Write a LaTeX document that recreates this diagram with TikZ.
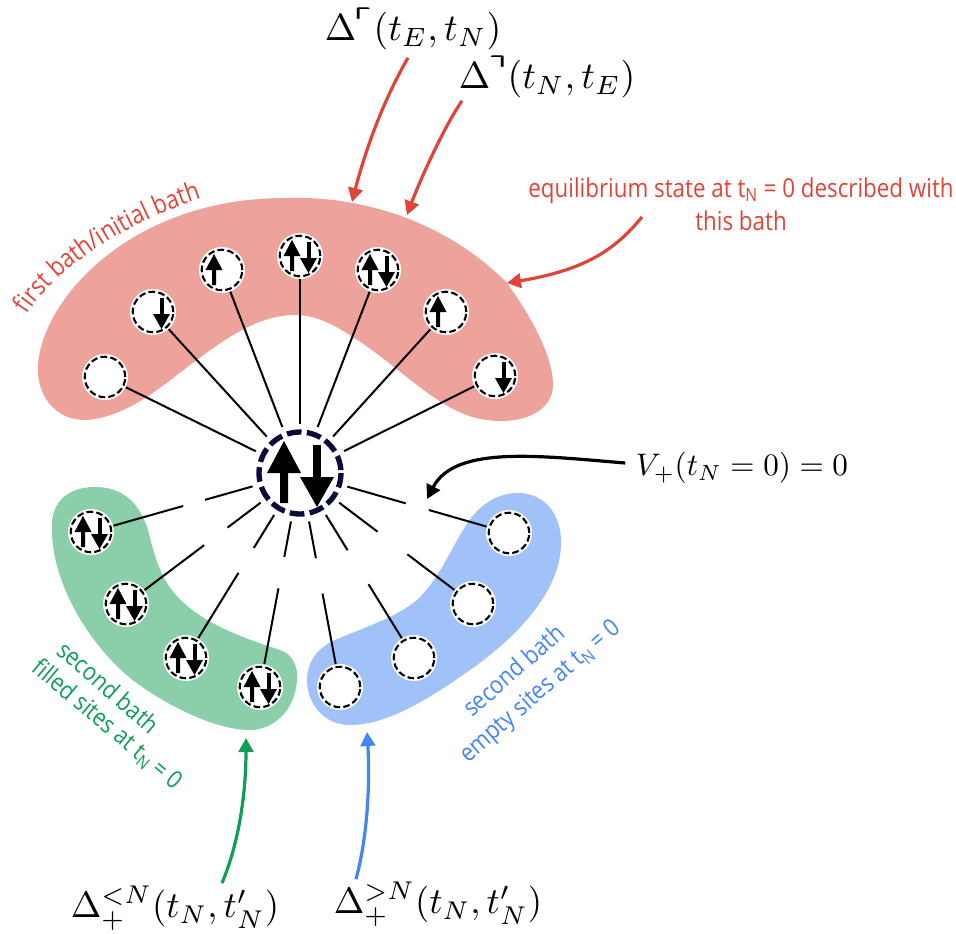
\documentclass[tikz,border=0pt]{standalone}
\usepackage{amsmath,amssymb}
\usepackage{fontspec}
\usetikzlibrary{arrows.meta,calc,decorations.text}
\newfontfamily\redfont[FakeStretch=0.86]{Open Sans}
\newfontfamily\bathfont[FakeStretch=0.88]{Open Sans}
\definecolor{redblob}{HTML}{EDA29C}
\definecolor{greenblob}{HTML}{8ACFAA}
\definecolor{blueblob}{HTML}{A0C2F8}
\definecolor{redink}{HTML}{E04438}
\definecolor{greenink}{HTML}{0F9D58}
\definecolor{blueink}{HTML}{4285F4}
\definecolor{corering}{HTML}{0B0B3B}
\tikzset{
    site/.style={circle, fill=white, inner sep=0pt, minimum size=34.5pt,
        path picture={\draw[line width=1.6pt, dash pattern=on 5pt off 2.4pt]
            (path picture bounding box.center) circle (15.2pt);}},
    bond/.style={line width=1.5pt},
    mathlabel/.style={inner sep=0pt, scale=2.75},
    pointer/.style={line width=2.4pt, -{Triangle[length=10.5pt, width=11pt]}},
    bathlabel/.style={inner sep=0pt, font=\bathfont\fontsize{18.5}{23}\selectfont},
    spinup/.pic={\fill (-10,15) -- (-10,0) -- (-16.5,0) -- (-8,-16) -- (0.5,0) -- (-6,0) -- (-6,15) -- cycle;},
    spindown/.pic={\fill (6.5,-14) rectangle (10.5,2);
        \fill (0,2) -- (17,2) -- (8.5,17) -- cycle;}
}
\begin{document}
\begin{tikzpicture}[x=0.75pt, y=-0.75pt]
    \useasboundingbox (0,0) rectangle (956,933);

    \fill[redblob] (38,365) .. controls (42,300) and (130,198) .. (285,198)
        .. controls (375,195) and (455,230) .. (507,283)
        .. controls (525,308) and (553,352) .. (553,385)
        .. controls (553,410) and (525,425) .. (487,420)
        .. controls (440,415) and (400,365) .. (345,332)
        .. controls (325,320) and (310,315) .. (295,315)
        .. controls (255,315) and (220,343) .. (190,365)
        .. controls (160,388) and (125,418) .. (85,420)
        .. controls (55,420) and (36,395) .. (38,365) -- cycle;
    \fill[greenblob] (52,530) .. controls (50,505) and (65,487) .. (95,487)
        .. controls (125,487) and (140,505) .. (148,530)
        .. controls (158,570) and (165,590) .. (195,612)
        .. controls (220,630) and (250,640) .. (280,650)
        .. controls (295,655) and (298,670) .. (297,680)
        .. controls (295,712) and (272,730) .. (250,730)
        .. controls (215,730) and (165,705) .. (130,678)
        .. controls (85,640) and (52,580) .. (52,530) -- cycle;
    \fill[blueblob] (307,680) .. controls (307,660) and (320,645) .. (340,638)
        .. controls (365,627) and (395,618) .. (417,600)
        .. controls (440,578) and (450,550) .. (465,527)
        .. controls (478,505) and (497,493) .. (518,493)
        .. controls (545,493) and (562,515) .. (561,545)
        .. controls (560,590) and (520,635) .. (470,670)
        .. controls (425,702) and (385,725) .. (350,725)
        .. controls (325,725) and (307,705) .. (307,680) -- cycle;

    \node[circle, fill=white, inner sep=0pt, minimum size=73.5pt] (core) at (300,473) {};
    \draw[corering, line width=4pt, dash pattern=on 11pt off 4pt] (core.center) circle (41);

    \foreach \name/\x/\y in {r1/105/377, r2/153/312, r3/222/270, r4/300/256, r5/378/270, r6/446/312, r7/495/376,
        g1/91/532, g2/126/604, g3/186/658, g4/260/687, b1/509/533, b2/473/604, b3/414/658, b4/340/687}
        \node[site] (\name) at (\x,\y) {};

    \foreach \name in {r1,r2,r3,r4,r5,r6,r7}
        \draw[bond] (core) -- (\name);

    \foreach \name/\inner/\outer in {g1/74/91, g2/68/90, g3/66/88, g4/64/88, b1/82.5/100.5, b2/73/101, b3/68/98, b4/65/92} {
        \draw[bond] (core) -- ($(core)!\inner pt!(\name)$);
        \draw[bond] ($(core)!\outer pt!(\name)$) -- (\name);
    }

    \foreach \name in {r3,r4,r5,r6,g1,g2,g3,g4}
        \pic at (\name) {spinup};
    \foreach \name in {r2,r4,r5,r7,g1,g2,g3,g4}
        \pic at (\name) {spindown};
    \pic[scale=2] at (core) {spinup};
    \pic[scale=2] at (core) {spindown};

    \node[mathlabel, scale=1.03] (deltaEN) at (413,29) {$\Delta^{\pmb{\ulcorner}}(t_E,t_N)$};
    \node[mathlabel, scale=1.03] (deltaNE) at (547,77) {$\Delta^{\pmb{\urcorner}}(t_N,t_E)$};
    \node[mathlabel, scale=0.85] (hybrid) at (742,468) {$V_+(t_N=0)=0$};
    \node[mathlabel] (deltaless) at (175,908) {$\Delta_+^{<N}(t_N,t'_N)$};
    \node[mathlabel] (deltagreater) at (438,904) {$\Delta_+^{>N}(t_N,t'_N)$};

    \node[redink, inner sep=0pt, align=center, font=\redfont\fontsize{19.5}{25}\selectfont] (equilibrium) at (741,204)
        {equilibrium state at t\textsubscript{N} = 0 described with\\this bath};
    \node[bathlabel, greenink, rotate=-41] (filledA) at (109,687) {second bath};
    \node[bathlabel, greenink, rotate=-40] (filledB) at (107,725) {filled sites at t\textsubscript{N} = 0};
    \node[bathlabel, blueink, rotate=41] (emptyA) at (513,670) {second bath};
    \node[bathlabel, blueink, rotate=41] (emptyB) at (541,692) {empty sites at t\textsubscript{N} = 0};

    \path[decorate, decoration={text along path, text color=redink, text align=center,
        text={|\redfont\fontsize{19.5}{23}\selectfont|first bath/initial bath}}]
        (26,316) .. controls (55,270) and (120,225) .. (203,198);

    \coordinate (tipEN) at (352,202);
    \coordinate (tipNE) at (407,215);
    \coordinate (tipeq) at (507,283);
    \coordinate (tipgreen) at (246,738);
    \coordinate (tipblue) at (367,732);
    \coordinate (tipcut) at (427,499);

    \draw[pointer, redink] ([shift={(-5,7)}]deltaEN.south) .. controls (388,92) and (368,140) .. (tipEN);
    \draw[pointer, redink] ([shift={(-85,2)}]deltaNE.south) .. controls (445,125) and (420,180) .. (tipNE);
    \draw[pointer, redink] ([shift={(-99,-14)}]equilibrium.south) .. controls (615,250) and (585,270) .. (tipeq);
    \draw[pointer, greenink] ([shift={(47,-2)}]deltaless.north) .. controls (240,840) and (246,790) .. (tipgreen);
    \draw[pointer, blueink] ([shift={(-82,-2)}]deltagreater.north) .. controls (368,835) and (370,780) .. (tipblue);
    \draw[pointer, black] ([shift={(-10,-5)}]hybrid.west) .. controls (540,456) and (455,445) .. (tipcut);
\end{tikzpicture}
\end{document}
